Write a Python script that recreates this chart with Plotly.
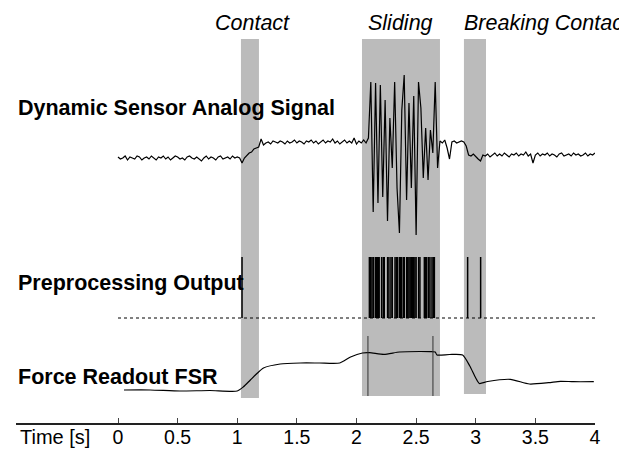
import plotly.graph_objects as go

# ---------------- data ----------------
dt = 0.02  # sampling step of the analog signal [s]
dyn_signal = [
    1, -1, 0, 2, -2, 1, 0, -1, 2, 1,
    -2, 0, 1, -1, 2, 0, -2, 1, 0, 2,
    -1, 1, -2, 0, 2, 1, -1, 0, -2, 1,
    2, 0, -1, 1, -1, -3, 0, 2, -1, 1,
    0, -2, 1, 2, -1, 0, 1, -1, 2, 0,
    1, 0, -5, 0, 3, 5, 6, 9, 10, 11,
    19, 13, 15, 16, 14, 17, 16, 15, 17, 16,
    14, 17, 15, 16, 18, 15, 17, 16, 14, 17,
    16, 18, 15, 17, 14, 16, 18, 15, 17, 16,
    19, 15, 17, 14, 16, 18, 15, 17, 15, 20,
    14, 17, 15, 18, 15, 20, 76, -54, 75, -45,
    73, -39, 58, -63, 40, -10, 76, -30, -75, 48,
    83, -42, 55, -30, 62, -77, 76, 50, -20, 30,
    -22, 28, 5, 76, -10, 17, 15, 18, 10, -1,
    16, 17, 15, 16, 17, 16, 12, 3, 2, 4,
    1, -1, -3, 3, 2, 4, 1, 3, 5, 2,
    4, 2, 5, 3, 1, 4, 3, 5, 2, 4,
    3, 6, 2, 4, -5, 3, 5, 2, 4, 3,
    5, 2, 4, 3, 1, 4, 5, 2, 3, 4,
    2, 5, 3, 4, 2, 3, 5, 2, 4, 3,
    5,
]
dyn_time = [round(i * dt, 2) for i in range(len(dyn_signal))]

# preprocessing output: detected event times [s]
event_times = [
    1.04,
    2.108, 2.119, 2.130, 2.141, 2.158, 2.167, 2.175, 2.184, 2.190,
    2.211, 2.225, 2.233, 2.261, 2.272, 2.289, 2.300, 2.323, 2.334, 2.342,
    2.359, 2.370, 2.378, 2.393, 2.401, 2.421, 2.430, 2.440, 2.450, 2.460,
    2.470, 2.480, 2.490, 2.500, 2.521, 2.532, 2.569, 2.580, 2.589, 2.605,
    2.616, 2.633, 2.644, 2.653,
    2.932, 3.041,
]
event_height = 1.0

# force readout FSR
force_time = [0.05, 0.27, 0.52, 0.77, 1.00, 1.05, 1.11, 1.17, 1.22, 1.36,
              1.53, 1.69, 1.86, 1.95, 2.05, 2.11, 2.23, 2.36, 2.53, 2.62,
              2.66, 2.675, 2.78, 2.89, 2.95, 3.00, 3.03, 3.10, 3.29, 3.45,
              3.61, 3.71, 3.82, 3.99]
force_value = [0.20, 0.20, 0.10, 0.15, 0.10, 0.50, 1.20, 1.90, 2.40, 2.80,
               2.90, 2.90, 2.90, 3.50, 3.90, 3.93, 3.77, 4.00, 4.05, 4.03,
               4.00, 3.70, 3.75, 3.70, 2.60, 1.40, 0.85, 1.05, 1.27, 0.80,
               0.93, 1.07, 1.03, 1.03]
slide_marker_times = [2.096, 2.641]
slide_marker_range = [-0.4, 5.6]

# phases
phase_names = ["Contact", "Sliding", "Breaking Contact"]
phase_start = [1.031, 2.046, 2.901]
phase_end = [1.182, 2.700, 3.086]
phase_label_x = [1.124, 2.365, 2.885]

tick_vals = [0, 0.5, 1, 1.5, 2, 2.5, 3, 3.5, 4]
tick_text = ["0", "0.5", "1", "1.5", "2", "2.5", "3", "3.5", "4"]

# ---------------- figure ----------------
FONT = "Liberation Sans, Arial, sans-serif"
fig = go.Figure()

# analog signal
fig.add_trace(go.Scatter(x=dyn_time, y=dyn_signal, mode="lines",
                         line=dict(color="#000000", width=1.2),
                         yaxis="y", hoverinfo="skip", showlegend=False))

# preprocessing baseline (dotted)
fig.add_trace(go.Scatter(x=[dyn_time[0], dyn_time[-1]], y=[0, 0], mode="lines",
                         line=dict(color="#000000", width=1, dash="dot"),
                         yaxis="y2", hoverinfo="skip", showlegend=False))
# preprocessing spikes
sx, sy = [], []
for t in event_times:
    sx += [t, t, None]
    sy += [0, event_height, None]
fig.add_trace(go.Scatter(x=sx, y=sy, mode="lines",
                         line=dict(color="#000000", width=1.5),
                         yaxis="y2", hoverinfo="skip", showlegend=False))

# force readout
fig.add_trace(go.Scatter(x=force_time, y=force_value, mode="lines",
                         line=dict(color="#000000", width=1.2, shape="spline", smoothing=0.6),
                         yaxis="y3", hoverinfo="skip", showlegend=False))
mx, my = [], []
for t in slide_marker_times:
    mx += [t, t, None]
    my += [slide_marker_range[0], slide_marker_range[1], None]
fig.add_trace(go.Scatter(x=mx, y=my, mode="lines",
                         line=dict(color="#333333", width=1),
                         yaxis="y3", hoverinfo="skip", showlegend=False))

# shaded phases
band_bottom = [0.0602, 0.0651, 0.0699]
shapes = []
for s, e, b in zip(phase_start, phase_end, band_bottom):
    shapes.append(dict(type="rect", xref="x", yref="paper", x0=s, x1=e,
                       y0=b, y1=0.9253, fillcolor="#bbbbbb", line=dict(width=0),
                       layer="below"))

annotations = []
for name, lx in zip(phase_names, phase_label_x):
    annotations.append(dict(text="<i>" + name + "</i>", x=lx, xref="x",
                            y=0.9639, yref="paper",
                            xanchor="left" if name.startswith("Breaking") else "center",
                            yanchor="middle", showarrow=False,
                            font=dict(family=FONT, size=21.5, color="#000000")))
row_labels = [("Dynamic Sensor Analog Signal", 0.7590),
              ("Preprocessing Output", 0.3373),
              ("Force Readout FSR", 0.1108)]
for txt, yy in row_labels:
    annotations.append(dict(text="<b>" + txt + "</b>", x=0.0, xref="paper",
                            y=yy, yref="paper", xanchor="left", yanchor="middle",
                            showarrow=False,
                            font=dict(family=FONT, size=21.5, color="#000000")))
annotations.append(dict(text="Time [s]", x=0.0035, xref="paper", y=-0.0337,
                        yref="paper", xanchor="left", yanchor="middle",
                        showarrow=False,
                        font=dict(family=FONT, size=20, color="#000000")))

fig.update_layout(
    width=619, height=446,
    margin=dict(l=8, r=32, t=0, b=31, pad=0),
    paper_bgcolor="white", plot_bgcolor="white",
    shapes=shapes, annotations=annotations,
    xaxis=dict(range=[-0.8553, 4.0], showgrid=False, zeroline=False,
               showline=True, linecolor="#222222", linewidth=1.5,
               ticks="inside", ticklen=5, tickwidth=1, tickcolor="#444444",
               tickvals=tick_vals, ticktext=tick_text, ticklabelstandoff=-4,
               tickfont=dict(family=FONT, size=19.5, color="#000000"),
               fixedrange=True),
    yaxis=dict(range=[-265, 150], visible=False, domain=[0, 1]),
    yaxis2=dict(range=[-1.7213, 5.0820], visible=False, overlaying="y"),
    yaxis3=dict(range=[-3.1, 38.4], visible=False, overlaying="y"),
    showlegend=False,
)

fig.write_html("out.html")
